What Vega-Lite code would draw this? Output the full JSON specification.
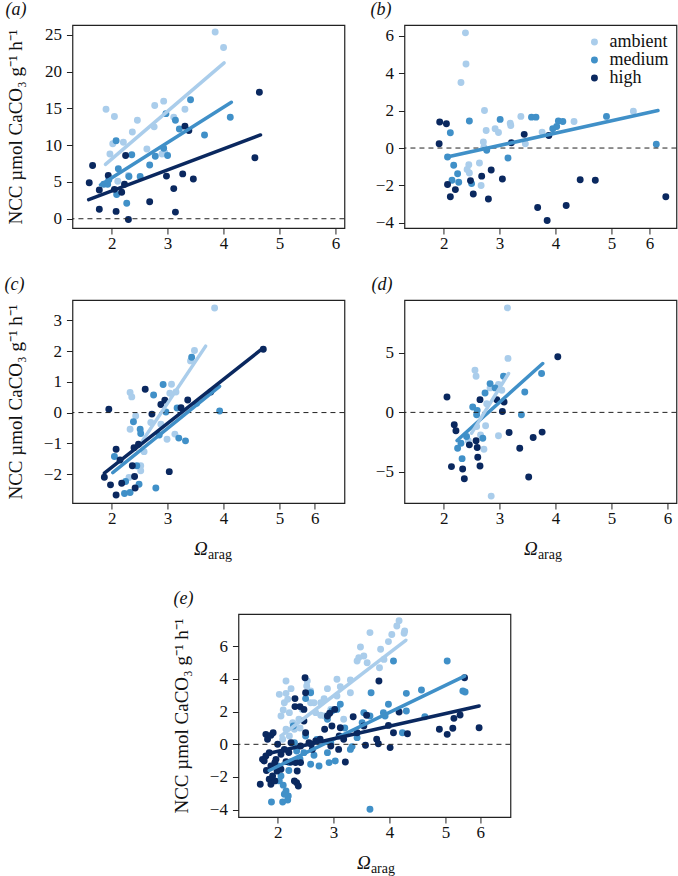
{
"$schema": "https://vega.github.io/schema/vega-lite/v6.json",
"background": "white",
"padding": {"left": 3, "top": 0, "right": 2, "bottom": 2},
"config": {
 "font": "Liberation Serif",
 "style": {"guide-label": {"font": "Liberation Serif"}, "guide-title": {"font": "Liberation Serif"}, "group-title": {"font": "Liberation Serif"}},
 "view": {"stroke": "#222", "strokeWidth": 1.2},
 "axis": {"labelFont": "Liberation Serif", "labelFontSize": 17, "labelColor": "#111", "titleFont": "Liberation Serif", "titleFontSize": 19, "titleFontWeight": "normal", "titleColor": "#111", "tickColor": "#222", "tickSize": 6, "tickWidth": 1, "domain": false, "grid": false, "labelFlush": false, "labelOverlap": false, "format": "d"},
 "axisX": {"labelPadding": 1, "labelFont": "Liberation Serif"},
 "axisY": {"labelPadding": 5, "labelFont": "Liberation Serif"},
 "title": {"font": "Liberation Serif", "fontSize": 18, "fontStyle": "italic", "fontWeight": "normal", "anchor": "start", "frame": "group", "offset": 6, "baseline": "alphabetic", "color": "#111"},
 "legend": {"labelFont": "Liberation Serif", "labelColor": "#111"}
},
"datasets": {
 "pts": [
  {"panel":"a","group":"ambient","x":1.9,"y":14.9},{"panel":"a","group":"ambient","x":2.05,"y":13.9},{"panel":"a","group":"ambient","x":1.97,"y":8.8},{"panel":"a","group":"ambient","x":2.02,"y":10.2},{"panel":"a","group":"ambient","x":2.21,"y":10.4},{"panel":"a","group":"ambient","x":2.37,"y":11.8},{"panel":"a","group":"ambient","x":2.46,"y":13.4},{"panel":"a","group":"ambient","x":2.11,"y":5.1},{"panel":"a","group":"ambient","x":2.77,"y":15.4},{"panel":"a","group":"ambient","x":2.93,"y":16.0},{"panel":"a","group":"ambient","x":2.76,"y":12.5},{"panel":"a","group":"ambient","x":2.63,"y":9.5},{"panel":"a","group":"ambient","x":2.9,"y":8.8},{"panel":"a","group":"ambient","x":3.11,"y":13.8},{"panel":"a","group":"ambient","x":3.31,"y":14.9},{"panel":"a","group":"ambient","x":3.85,"y":25.4},{"panel":"a","group":"ambient","x":4.0,"y":23.3},{"panel":"a","group":"ambient","x":2.3,"y":5.9},{"panel":"a","group":"ambient","x":2.95,"y":9.0},
  {"panel":"a","group":"medium","x":1.86,"y":4.7},{"panel":"a","group":"medium","x":1.93,"y":4.7},{"panel":"a","group":"medium","x":2.08,"y":10.6},{"panel":"a","group":"medium","x":2.12,"y":6.8},{"panel":"a","group":"medium","x":2.09,"y":3.3},{"panel":"a","group":"medium","x":2.27,"y":2.1},{"panel":"a","group":"medium","x":2.36,"y":8.7},{"panel":"a","group":"medium","x":2.31,"y":5.75},{"panel":"a","group":"medium","x":2.51,"y":5.75},{"panel":"a","group":"medium","x":2.68,"y":7.3},{"panel":"a","group":"medium","x":2.78,"y":8.5},{"panel":"a","group":"medium","x":2.93,"y":9.6},{"panel":"a","group":"medium","x":2.97,"y":14.3},{"panel":"a","group":"medium","x":3.0,"y":8.6},{"panel":"a","group":"medium","x":3.14,"y":13.4},{"panel":"a","group":"medium","x":3.21,"y":12.2},{"panel":"a","group":"medium","x":3.41,"y":16.2},{"panel":"a","group":"medium","x":3.66,"y":11.4},{"panel":"a","group":"medium","x":4.12,"y":13.8},{"panel":"a","group":"medium","x":1.95,"y":5.3},
  {"panel":"a","group":"high","x":1.6,"y":4.9},{"panel":"a","group":"high","x":1.66,"y":7.25},{"panel":"a","group":"high","x":1.78,"y":3.9},{"panel":"a","group":"high","x":1.78,"y":1.3},{"panel":"a","group":"high","x":1.94,"y":5.9},{"panel":"a","group":"high","x":2.05,"y":4.0},{"panel":"a","group":"high","x":2.08,"y":1.0},{"panel":"a","group":"high","x":2.18,"y":3.6},{"panel":"a","group":"high","x":2.23,"y":4.7},{"panel":"a","group":"high","x":2.25,"y":8.6},{"panel":"a","group":"high","x":2.3,"y":-0.1},{"panel":"a","group":"high","x":2.68,"y":2.3},{"panel":"a","group":"high","x":2.98,"y":5.8},{"panel":"a","group":"high","x":3.11,"y":4.1},{"panel":"a","group":"high","x":3.14,"y":0.9},{"panel":"a","group":"high","x":3.27,"y":6.1},{"panel":"a","group":"high","x":3.31,"y":12.6},{"panel":"a","group":"high","x":3.38,"y":12.0},{"panel":"a","group":"high","x":3.46,"y":5.4},{"panel":"a","group":"high","x":4.56,"y":8.3},{"panel":"a","group":"high","x":4.64,"y":17.2},
  {"panel":"b","group":"ambient","x":2.39,"y":6.15},{"panel":"b","group":"ambient","x":2.4,"y":4.49},{"panel":"b","group":"ambient","x":2.31,"y":3.5},{"panel":"b","group":"ambient","x":2.73,"y":2.0},{"panel":"b","group":"ambient","x":2.76,"y":0.94},{"panel":"b","group":"ambient","x":2.92,"y":1.03},{"panel":"b","group":"ambient","x":2.98,"y":0.83},{"panel":"b","group":"ambient","x":3.19,"y":1.33},{"panel":"b","group":"ambient","x":3.2,"y":1.2},{"panel":"b","group":"ambient","x":3.38,"y":1.69},{"panel":"b","group":"ambient","x":3.76,"y":0.85},{"panel":"b","group":"ambient","x":4.33,"y":1.42},{"panel":"b","group":"ambient","x":5.39,"y":1.97},{"panel":"b","group":"ambient","x":2.71,"y":0.32},{"panel":"b","group":"ambient","x":2.72,"y":0.05},{"panel":"b","group":"ambient","x":2.45,"y":-0.89},{"panel":"b","group":"ambient","x":2.42,"y":-1.15},{"panel":"b","group":"ambient","x":2.46,"y":-1.33},{"panel":"b","group":"ambient","x":2.64,"y":-0.8},{"panel":"b","group":"ambient","x":2.67,"y":-2.0},{"panel":"b","group":"ambient","x":3.46,"y":0.23},
  {"panel":"b","group":"medium","x":2.12,"y":0.82},{"panel":"b","group":"medium","x":2.07,"y":-0.48},{"panel":"b","group":"medium","x":2.18,"y":-0.92},{"panel":"b","group":"medium","x":2.25,"y":-1.37},{"panel":"b","group":"medium","x":2.27,"y":-1.83},{"panel":"b","group":"medium","x":2.15,"y":-1.72},{"panel":"b","group":"medium","x":2.46,"y":1.44},{"panel":"b","group":"medium","x":2.5,"y":-1.9},{"panel":"b","group":"medium","x":2.77,"y":-0.12},{"panel":"b","group":"medium","x":3.01,"y":1.53},{"panel":"b","group":"medium","x":3.15,"y":-0.53},{"panel":"b","group":"medium","x":3.57,"y":1.65},{"panel":"b","group":"medium","x":3.65,"y":1.65},{"panel":"b","group":"medium","x":3.95,"y":1.03},{"panel":"b","group":"medium","x":4.05,"y":1.44},{"panel":"b","group":"medium","x":4.13,"y":1.42},{"panel":"b","group":"medium","x":4.02,"y":1.15},{"panel":"b","group":"medium","x":4.91,"y":1.69},{"panel":"b","group":"medium","x":5.8,"y":0.2},
  {"panel":"b","group":"high","x":1.93,"y":1.39},{"panel":"b","group":"high","x":2.05,"y":1.3},{"panel":"b","group":"high","x":1.92,"y":0.23},{"panel":"b","group":"high","x":2.07,"y":-1.95},{"panel":"b","group":"high","x":2.12,"y":-2.6},{"panel":"b","group":"high","x":2.21,"y":-2.22},{"panel":"b","group":"high","x":2.48,"y":-1.74},{"panel":"b","group":"high","x":2.53,"y":-2.45},{"panel":"b","group":"high","x":2.68,"y":-1.5},{"panel":"b","group":"high","x":2.8,"y":-2.72},{"panel":"b","group":"high","x":2.85,"y":-1.17},{"panel":"b","group":"high","x":3.05,"y":-1.65},{"panel":"b","group":"high","x":3.21,"y":0.28},{"panel":"b","group":"high","x":3.44,"y":0.73},{"panel":"b","group":"high","x":3.68,"y":-3.18},{"panel":"b","group":"high","x":3.85,"y":-3.87},{"panel":"b","group":"high","x":3.88,"y":0.67},{"panel":"b","group":"high","x":4.19,"y":-3.07},{"panel":"b","group":"high","x":4.44,"y":-1.69},{"panel":"b","group":"high","x":4.71,"y":-1.72},{"panel":"b","group":"high","x":5.97,"y":-2.6},
  {"panel":"c","group":"ambient","x":3.84,"y":3.4},{"panel":"c","group":"ambient","x":3.48,"y":2.02},{"panel":"c","group":"ambient","x":3.41,"y":1.68},{"panel":"c","group":"ambient","x":3.07,"y":0.92},{"panel":"c","group":"ambient","x":3.04,"y":0.63},{"panel":"c","group":"ambient","x":3.15,"y":0.67},{"panel":"c","group":"ambient","x":2.33,"y":0.65},{"panel":"c","group":"ambient","x":2.36,"y":0.51},{"panel":"c","group":"ambient","x":2.43,"y":-0.11},{"panel":"c","group":"ambient","x":2.33,"y":-0.54},{"panel":"c","group":"ambient","x":2.7,"y":-0.32},{"panel":"c","group":"ambient","x":2.99,"y":-0.87},{"panel":"c","group":"ambient","x":2.58,"y":-1.27},{"panel":"c","group":"ambient","x":2.52,"y":-1.73},{"panel":"c","group":"ambient","x":2.52,"y":-1.89},{"panel":"c","group":"ambient","x":2.31,"y":-2.11},{"panel":"c","group":"ambient","x":2.88,"y":-0.38},{"panel":"c","group":"ambient","x":3.13,"y":-0.7},
  {"panel":"c","group":"medium","x":2.05,"y":-1.43},{"panel":"c","group":"medium","x":2.39,"y":-0.3},{"panel":"c","group":"medium","x":2.51,"y":-0.54},{"panel":"c","group":"medium","x":2.52,"y":-0.68},{"panel":"c","group":"medium","x":2.75,"y":0.57},{"panel":"c","group":"medium","x":2.92,"y":0.91},{"panel":"c","group":"medium","x":2.97,"y":0.02},{"panel":"c","group":"medium","x":2.85,"y":-0.73},{"panel":"c","group":"medium","x":3.2,"y":-0.83},{"panel":"c","group":"medium","x":3.32,"y":-0.92},{"panel":"c","group":"medium","x":3.43,"y":1.8},{"panel":"c","group":"medium","x":3.52,"y":0.3},{"panel":"c","group":"medium","x":3.93,"y":0.05},{"panel":"c","group":"medium","x":2.25,"y":-2.24},{"panel":"c","group":"medium","x":2.23,"y":-2.63},{"panel":"c","group":"medium","x":2.33,"y":-2.6},{"panel":"c","group":"medium","x":2.49,"y":-2.33},{"panel":"c","group":"medium","x":2.79,"y":-2.45},{"panel":"c","group":"medium","x":2.45,"y":-1.73},{"panel":"c","group":"medium","x":3.17,"y":0.15},
  {"panel":"c","group":"high","x":1.95,"y":0.11},{"panel":"c","group":"high","x":1.87,"y":-2.1},{"panel":"c","group":"high","x":1.98,"y":-2.35},{"panel":"c","group":"high","x":2.08,"y":-1.19},{"panel":"c","group":"high","x":2.08,"y":-2.68},{"panel":"c","group":"high","x":2.15,"y":-1.54},{"panel":"c","group":"high","x":2.18,"y":-2.3},{"panel":"c","group":"high","x":2.37,"y":-1.73},{"panel":"c","group":"high","x":2.4,"y":-1.14},{"panel":"c","group":"high","x":2.41,"y":-2.08},{"panel":"c","group":"high","x":2.42,"y":-2.45},{"panel":"c","group":"high","x":2.48,"y":-1.03},{"panel":"c","group":"high","x":2.6,"y":0.76},{"panel":"c","group":"high","x":2.72,"y":-0.05},{"panel":"c","group":"high","x":2.88,"y":0.26},{"panel":"c","group":"high","x":2.95,"y":0.4},{"panel":"c","group":"high","x":3.03,"y":-1.92},{"panel":"c","group":"high","x":3.24,"y":0.16},{"panel":"c","group":"high","x":3.36,"y":0.41},{"panel":"c","group":"high","x":3.77,"y":0.67},{"panel":"c","group":"high","x":4.71,"y":2.06},
  {"panel":"d","group":"ambient","x":3.14,"y":8.79},{"panel":"d","group":"ambient","x":3.15,"y":4.54},{"panel":"d","group":"ambient","x":2.56,"y":3.55},{"panel":"d","group":"ambient","x":2.58,"y":3.04},{"panel":"d","group":"ambient","x":3.04,"y":1.86},{"panel":"d","group":"ambient","x":2.98,"y":2.34},{"panel":"d","group":"ambient","x":2.77,"y":0.73},{"panel":"d","group":"ambient","x":2.83,"y":2.06},{"panel":"d","group":"ambient","x":2.75,"y":-1.13},{"panel":"d","group":"ambient","x":2.66,"y":-1.89},{"panel":"d","group":"ambient","x":2.98,"y":-1.97},{"panel":"d","group":"ambient","x":2.72,"y":-3.1},{"panel":"d","group":"ambient","x":2.44,"y":-2.39},{"panel":"d","group":"ambient","x":2.85,"y":-7.04},{"panel":"d","group":"ambient","x":2.59,"y":-1.18},
  {"panel":"d","group":"medium","x":2.52,"y":0.45},{"panel":"d","group":"medium","x":2.6,"y":0.17},{"panel":"d","group":"medium","x":2.59,"y":-0.2},{"panel":"d","group":"medium","x":2.74,"y":1.63},{"panel":"d","group":"medium","x":2.83,"y":2.42},{"panel":"d","group":"medium","x":2.92,"y":2.06},{"panel":"d","group":"medium","x":3.07,"y":3.04},{"panel":"d","group":"medium","x":2.7,"y":-2.17},{"panel":"d","group":"medium","x":2.31,"y":-2.59},{"panel":"d","group":"medium","x":2.25,"y":-3.01},{"panel":"d","group":"medium","x":2.33,"y":-3.89},{"panel":"d","group":"medium","x":2.41,"y":-2.03},{"panel":"d","group":"medium","x":3.45,"y":1.72},{"panel":"d","group":"medium","x":3.39,"y":-0.2},{"panel":"d","group":"medium","x":3.75,"y":3.27},
  {"panel":"d","group":"high","x":2.06,"y":1.3},{"panel":"d","group":"high","x":2.19,"y":-1.04},{"panel":"d","group":"high","x":2.22,"y":-1.55},{"panel":"d","group":"high","x":2.14,"y":-4.56},{"panel":"d","group":"high","x":2.34,"y":-4.76},{"panel":"d","group":"high","x":2.37,"y":-5.58},{"panel":"d","group":"high","x":2.46,"y":-2.73},{"panel":"d","group":"high","x":2.58,"y":-2.39},{"panel":"d","group":"high","x":2.6,"y":-2.96},{"panel":"d","group":"high","x":2.61,"y":-3.77},{"panel":"d","group":"high","x":2.65,"y":-4.51},{"panel":"d","group":"high","x":2.65,"y":1.07},{"panel":"d","group":"high","x":2.95,"y":1.07},{"panel":"d","group":"high","x":3.08,"y":0.87},{"panel":"d","group":"high","x":3.05,"y":0.08},{"panel":"d","group":"high","x":3.17,"y":-1.69},{"panel":"d","group":"high","x":3.36,"y":-3.01},{"panel":"d","group":"high","x":3.52,"y":-5.44},{"panel":"d","group":"high","x":3.6,"y":-2.11},{"panel":"d","group":"high","x":3.76,"y":-1.66},{"panel":"d","group":"high","x":4.04,"y":4.68},
  {"panel":"e","group":"ambient","x":4.17,"y":7.57},{"panel":"e","group":"ambient","x":4.27,"y":6.94},{"panel":"e","group":"ambient","x":4.26,"y":6.8},{"panel":"e","group":"ambient","x":4.13,"y":7.24},{"panel":"e","group":"ambient","x":4.04,"y":6.73},{"panel":"e","group":"ambient","x":3.98,"y":6.29},{"panel":"e","group":"ambient","x":3.84,"y":5.82},{"panel":"e","group":"ambient","x":3.65,"y":6.84},{"panel":"e","group":"ambient","x":3.48,"y":5.96},{"panel":"e","group":"ambient","x":3.54,"y":5.41},{"panel":"e","group":"ambient","x":3.42,"y":5.1},{"panel":"e","group":"ambient","x":3.45,"y":5.31},{"panel":"e","group":"ambient","x":3.82,"y":4.69},{"panel":"e","group":"ambient","x":3.3,"y":3.94},{"panel":"e","group":"ambient","x":3.06,"y":3.98},{"panel":"e","group":"ambient","x":3.12,"y":3.53},{"panel":"e","group":"ambient","x":2.89,"y":3.41},{"panel":"e","group":"ambient","x":3.3,"y":3.16},{"panel":"e","group":"ambient","x":2.77,"y":2.55},{"panel":"e","group":"ambient","x":2.83,"y":2.8},{"panel":"e","group":"ambient","x":2.68,"y":1.94},{"panel":"e","group":"ambient","x":2.77,"y":1.78},{"panel":"e","group":"ambient","x":2.84,"y":1.73},{"panel":"e","group":"ambient","x":2.53,"y":3.88},{"panel":"e","group":"ambient","x":2.52,"y":3.57},{"panel":"e","group":"ambient","x":2.15,"y":3.88},{"panel":"e","group":"ambient","x":2.03,"y":3.06},{"panel":"e","group":"ambient","x":2.15,"y":3.12},{"panel":"e","group":"ambient","x":2.12,"y":2.55},{"panel":"e","group":"ambient","x":2.18,"y":2.76},{"panel":"e","group":"ambient","x":2.06,"y":1.73},{"panel":"e","group":"ambient","x":2.21,"y":1.94},{"panel":"e","group":"ambient","x":2.27,"y":1.33},{"panel":"e","group":"ambient","x":2.15,"y":0.92},{"panel":"e","group":"ambient","x":2.3,"y":0.92},{"panel":"e","group":"ambient","x":2.38,"y":1.53},{"panel":"e","group":"ambient","x":2.44,"y":2.14},{"panel":"e","group":"ambient","x":2.59,"y":2.55},{"panel":"e","group":"ambient","x":2.65,"y":2.55},{"panel":"e","group":"ambient","x":2.09,"y":0.31},{"panel":"e","group":"ambient","x":2.21,"y":0.51},{"panel":"e","group":"ambient","x":2.59,"y":3.27},{"panel":"e","group":"ambient","x":2.95,"y":2.14},{"panel":"e","group":"ambient","x":3.06,"y":2.96},{"panel":"e","group":"ambient","x":3.18,"y":1.53},{"panel":"e","group":"ambient","x":2.24,"y":3.41},{"panel":"e","group":"ambient","x":3.6,"y":5.0},{"panel":"e","group":"ambient","x":3.9,"y":5.2},{"panel":"e","group":"ambient","x":2.1,"y":2.1},{"panel":"e","group":"ambient","x":2.4,"y":1.0},
  {"panel":"e","group":"medium","x":4.07,"y":5.1},{"panel":"e","group":"medium","x":5.03,"y":5.1},{"panel":"e","group":"medium","x":5.31,"y":3.27},{"panel":"e","group":"medium","x":5.35,"y":3.2},{"panel":"e","group":"medium","x":4.57,"y":3.33},{"panel":"e","group":"medium","x":4.3,"y":3.12},{"panel":"e","group":"medium","x":4.3,"y":2.04},{"panel":"e","group":"medium","x":3.67,"y":3.16},{"panel":"e","group":"medium","x":3.98,"y":2.45},{"panel":"e","group":"medium","x":3.89,"y":1.94},{"panel":"e","group":"medium","x":3.92,"y":1.73},{"panel":"e","group":"medium","x":4.23,"y":0.71},{"panel":"e","group":"medium","x":4.63,"y":1.69},{"panel":"e","group":"medium","x":3.65,"y":1.73},{"panel":"e","group":"medium","x":3.51,"y":1.33},{"panel":"e","group":"medium","x":3.42,"y":0.41},{"panel":"e","group":"medium","x":3.33,"y":-0.14},{"panel":"e","group":"medium","x":3.12,"y":2.45},{"panel":"e","group":"medium","x":3.06,"y":2.14},{"panel":"e","group":"medium","x":2.97,"y":2.04},{"panel":"e","group":"medium","x":2.89,"y":1.53},{"panel":"e","group":"medium","x":2.95,"y":0.1},{"panel":"e","group":"medium","x":2.92,"y":-1.12},{"panel":"e","group":"medium","x":3.03,"y":-1.02},{"panel":"e","group":"medium","x":2.89,"y":-0.51},{"panel":"e","group":"medium","x":2.74,"y":-1.33},{"panel":"e","group":"medium","x":2.59,"y":-1.22},{"panel":"e","group":"medium","x":2.65,"y":-0.67},{"panel":"e","group":"medium","x":2.47,"y":-0.51},{"panel":"e","group":"medium","x":2.5,"y":0.51},{"panel":"e","group":"medium","x":2.59,"y":3.16},{"panel":"e","group":"medium","x":2.5,"y":2.8},{"panel":"e","group":"medium","x":2.28,"y":1.12},{"panel":"e","group":"medium","x":2.3,"y":0.1},{"panel":"e","group":"medium","x":2.21,"y":-1.12},{"panel":"e","group":"medium","x":2.06,"y":-1.94},{"panel":"e","group":"medium","x":2.15,"y":-2.86},{"panel":"e","group":"medium","x":2.19,"y":-3.16},{"panel":"e","group":"medium","x":2.09,"y":-3.53},{"panel":"e","group":"medium","x":1.89,"y":-3.53},{"panel":"e","group":"medium","x":2.18,"y":-3.41},{"panel":"e","group":"medium","x":2.12,"y":-3.06},{"panel":"e","group":"medium","x":2.03,"y":-2.24},{"panel":"e","group":"medium","x":2.0,"y":-1.33},{"panel":"e","group":"medium","x":3.65,"y":-3.98},{"panel":"e","group":"medium","x":3.3,"y":-0.31},{"panel":"e","group":"medium","x":3.54,"y":1.94},{"panel":"e","group":"medium","x":2.34,"y":-0.41},{"panel":"e","group":"medium","x":2.2,"y":-1.6},{"panel":"e","group":"medium","x":2.4,"y":-0.9},{"panel":"e","group":"medium","x":2.7,"y":0.3},{"panel":"e","group":"medium","x":3.2,"y":1.0},{"panel":"e","group":"medium","x":2.1,"y":-2.5},
  {"panel":"e","group":"high","x":1.69,"y":-2.45},{"panel":"e","group":"high","x":1.76,"y":-1.02},{"panel":"e","group":"high","x":1.79,"y":-0.71},{"panel":"e","group":"high","x":1.73,"y":-0.92},{"panel":"e","group":"high","x":1.82,"y":0.31},{"panel":"e","group":"high","x":1.79,"y":0.61},{"panel":"e","group":"high","x":1.88,"y":0.55},{"panel":"e","group":"high","x":1.92,"y":0.71},{"panel":"e","group":"high","x":1.85,"y":-0.51},{"panel":"e","group":"high","x":1.88,"y":-1.33},{"panel":"e","group":"high","x":1.85,"y":-2.14},{"panel":"e","group":"high","x":1.88,"y":-2.45},{"panel":"e","group":"high","x":1.95,"y":-2.24},{"panel":"e","group":"high","x":2.0,"y":0.0},{"panel":"e","group":"high","x":1.97,"y":-0.92},{"panel":"e","group":"high","x":1.99,"y":-1.63},{"panel":"e","group":"high","x":1.91,"y":-1.94},{"panel":"e","group":"high","x":1.95,"y":-1.12},{"panel":"e","group":"high","x":2.06,"y":-1.53},{"panel":"e","group":"high","x":2.15,"y":-1.06},{"panel":"e","group":"high","x":2.24,"y":-1.08},{"panel":"e","group":"high","x":2.32,"y":-1.12},{"panel":"e","group":"high","x":2.41,"y":-1.12},{"panel":"e","group":"high","x":2.35,"y":-1.63},{"panel":"e","group":"high","x":2.34,"y":-2.35},{"panel":"e","group":"high","x":2.3,"y":-2.24},{"panel":"e","group":"high","x":2.37,"y":-2.55},{"panel":"e","group":"high","x":2.24,"y":0.1},{"panel":"e","group":"high","x":2.31,"y":2.8},{"panel":"e","group":"high","x":2.31,"y":2.31},{"panel":"e","group":"high","x":2.4,"y":2.31},{"panel":"e","group":"high","x":2.47,"y":2.14},{"panel":"e","group":"high","x":2.49,"y":4.08},{"panel":"e","group":"high","x":2.5,"y":3.16},{"panel":"e","group":"high","x":2.47,"y":1.43},{"panel":"e","group":"high","x":2.5,"y":0.71},{"panel":"e","group":"high","x":2.41,"y":-0.1},{"panel":"e","group":"high","x":2.56,"y":0.1},{"panel":"e","group":"high","x":2.62,"y":-0.31},{"panel":"e","group":"high","x":2.68,"y":0.2},{"panel":"e","group":"high","x":2.76,"y":0.31},{"panel":"e","group":"high","x":2.84,"y":0.92},{"panel":"e","group":"high","x":2.89,"y":1.73},{"panel":"e","group":"high","x":2.93,"y":1.9},{"panel":"e","group":"high","x":3.02,"y":2.14},{"panel":"e","group":"high","x":2.97,"y":1.12},{"panel":"e","group":"high","x":2.95,"y":-0.1},{"panel":"e","group":"high","x":3.12,"y":1.02},{"panel":"e","group":"high","x":3.1,"y":0.51},{"panel":"e","group":"high","x":3.09,"y":-0.31},{"panel":"e","group":"high","x":3.21,"y":-1.08},{"panel":"e","group":"high","x":3.18,"y":0.31},{"panel":"e","group":"high","x":3.35,"y":1.69},{"panel":"e","group":"high","x":3.42,"y":0.71},{"panel":"e","group":"high","x":3.54,"y":1.12},{"panel":"e","group":"high","x":3.59,"y":1.78},{"panel":"e","group":"high","x":3.57,"y":-0.06},{"panel":"e","group":"high","x":3.77,"y":0.31},{"panel":"e","group":"high","x":3.8,"y":0.04},{"panel":"e","group":"high","x":3.81,"y":3.88},{"panel":"e","group":"high","x":4.01,"y":-0.2},{"panel":"e","group":"high","x":3.98,"y":1.16},{"panel":"e","group":"high","x":4.07,"y":0.71},{"panel":"e","group":"high","x":4.17,"y":1.98},{"panel":"e","group":"high","x":4.32,"y":0.65},{"panel":"e","group":"high","x":4.89,"y":0.92},{"panel":"e","group":"high","x":5.03,"y":0.61},{"panel":"e","group":"high","x":5.13,"y":0.98},{"panel":"e","group":"high","x":5.15,"y":1.59},{"panel":"e","group":"high","x":5.26,"y":1.8},{"panel":"e","group":"high","x":5.34,"y":4.08},{"panel":"e","group":"high","x":5.6,"y":1.02},{"panel":"e","group":"high","x":2.12,"y":-0.31},{"panel":"e","group":"high","x":2.06,"y":-0.61},{"panel":"e","group":"high","x":1.8,"y":-1.6},{"panel":"e","group":"high","x":2.6,"y":0.0},{"panel":"e","group":"high","x":2.2,"y":-0.5}
 ],
 "fits": [
  {"panel":"a","group":"ambient","x":1.89,"y":7.4},{"panel":"a","group":"ambient","x":4.01,"y":21.2},
  {"panel":"a","group":"medium","x":1.8,"y":4.6},{"panel":"a","group":"medium","x":4.14,"y":15.85},
  {"panel":"a","group":"high","x":1.59,"y":2.6},{"panel":"a","group":"high","x":4.66,"y":11.4},
  {"panel":"b","group":"medium","x":2.06,"y":-0.48},{"panel":"b","group":"medium","x":5.83,"y":2.0},
  {"panel":"c","group":"ambient","x":2.55,"y":-0.92},{"panel":"c","group":"ambient","x":3.68,"y":2.16},
  {"panel":"c","group":"medium","x":2.02,"y":-1.95},{"panel":"c","group":"medium","x":3.93,"y":0.85},
  {"panel":"c","group":"high","x":1.87,"y":-1.97},{"panel":"c","group":"high","x":4.71,"y":2.1},
  {"panel":"d","group":"medium","x":2.24,"y":-2.37},{"panel":"d","group":"medium","x":3.77,"y":4.11},
  {"panel":"d","group":"ambient","x":2.5,"y":-1.75},{"panel":"d","group":"ambient","x":3.16,"y":3.27},
  {"panel":"e","group":"ambient","x":2.06,"y":0.51},{"panel":"e","group":"ambient","x":4.29,"y":6.37},
  {"panel":"e","group":"medium","x":1.85,"y":-1.6},{"panel":"e","group":"medium","x":5.34,"y":4.18},
  {"panel":"e","group":"high","x":1.85,"y":-0.55},{"panel":"e","group":"high","x":5.6,"y":2.35}
 ]
},
"spacing": 27,
"center": true,
"resolve": {"scale": {"color": "independent"}, "legend": {"color": "independent"}},
"vconcat": [
 {
 "spacing": 23,
 "resolve": {"scale": {"color": "independent"}, "legend": {"color": "independent"}},
 "vconcat": [
 {
  "hconcat": [
   {
    "width": 272, "height": 203,
    "title": {"text": "(a)", "dx": -67},
    "layer": [
     {"data": {"name": "pts"}, "transform": [{"filter": "datum.panel === 'a'"}],
      "mark": {"type": "circle", "size": 48, "opacity": 1},
      "encoding": {
       "x": {"field": "x", "type": "quantitative", "scale": {"domain": [1.3, 6.16], "nice": false, "zero": false}, "axis": {"values": [2,3,4,5,6], "title": null, "labelFont": "Liberation Serif"}},
       "y": {"field": "y", "type": "quantitative", "scale": {"domain": [-1.26, 26.36], "nice": false, "zero": false}, "axis": {"values": [0,5,10,15,20,25], "labelFont": "Liberation Serif", "title": "NCC µmol CaCO₃ g⁻¹ h⁻¹", "titleX": -51, "titleY": 101.5, "titleAlign": "center", "titleBaseline": "alphabetic"}},
       "color": {"field": "group", "type": "nominal", "scale": {"domain": ["ambient","medium","high"], "range": ["#aacdeb","#4090c8","#0a285f"]}, "legend": null}
      }},
     {"data": {"values": [{"y": 0}]}, "mark": {"type": "rule", "strokeDash": [5,4], "color": "#222", "strokeWidth": 1}, "encoding": {"y": {"field": "y", "type": "quantitative"}}},
     {"data": {"name": "fits"}, "transform": [{"filter": "datum.panel === 'a'"}],
      "mark": {"type": "line", "strokeWidth": 3.5, "strokeCap": "round"},
      "encoding": {"x": {"field": "x", "type": "quantitative"}, "y": {"field": "y", "type": "quantitative"}, "color": {"field": "group", "type": "nominal", "scale": {"domain": ["ambient","medium","high"], "range": ["#aacdeb","#4090c8","#0a285f"]}, "legend": null}}}
    ]
   },
   {
    "width": 272, "height": 203,
    "title": {"text": "(b)", "dx": -34},
    "layer": [
     {"data": {"name": "pts"}, "transform": [{"filter": "datum.panel === 'b'"}],
      "mark": {"type": "circle", "size": 48, "opacity": 1},
      "encoding": {
       "x": {"field": "x", "type": "quantitative", "scale": {"domain": [1.3, 6.16], "nice": false, "zero": false}, "axis": {"values": [2,3,4,5,5.68], "labelFont": "Liberation Serif", "labelExpr": "datum.value > 5.5 ? '6' : format(datum.value, 'd')", "title": null}},
       "y": {"field": "y", "type": "quantitative", "scale": {"domain": [-4.27, 6.57], "nice": false, "zero": false}, "axis": {"values": [-4,-2,0,2,4,6], "labelFont": "Liberation Serif", "title": null}},
       "color": {"field": "group", "type": "nominal", "scale": {"domain": ["ambient","medium","high"], "range": ["#aacdeb","#4090c8","#0a285f"]}, "legend": {"orient": "top-right", "offset": 8, "title": null, "labelFontSize": 18, "symbolSize": 48, "rowPadding": -2, "labelOffset": 6, "padding": 0, "symbolType": "circle"}}
      }},
     {"data": {"values": [{"y": 0}]}, "mark": {"type": "rule", "strokeDash": [5,4], "color": "#222", "strokeWidth": 1}, "encoding": {"y": {"field": "y", "type": "quantitative"}}},
     {"data": {"name": "fits"}, "transform": [{"filter": "datum.panel === 'b'"}],
      "mark": {"type": "line", "strokeWidth": 3.5, "strokeCap": "round", "color": "#4090c8"},
      "encoding": {"x": {"field": "x", "type": "quantitative"}, "y": {"field": "y", "type": "quantitative"}}}
    ]
   }
  ],
  "spacing": 60,
  "bounds": "flush",
  "resolve": {"scale": {"color": "independent"}, "legend": {"color": "independent"}}
 },
 {
  "hconcat": [
   {
    "width": 272, "height": 203,
    "title": {"text": "(c)", "dx": -68},
    "layer": [
     {"data": {"name": "pts"}, "transform": [{"filter": "datum.panel === 'c'"}],
      "mark": {"type": "circle", "size": 48, "opacity": 1},
      "encoding": {
       "x": {"field": "x", "type": "quantitative", "scale": {"domain": [1.3, 6.16], "nice": false, "zero": false}, "axis": {"values": [2,3,4,5,5.63], "labelFont": "Liberation Serif", "labelExpr": "datum.value > 5.5 ? '6' : format(datum.value, 'd')", "title": "Ω", "titleFontStyle": "italic", "titleX": 128, "titleY": 51, "titleBaseline": "alphabetic", "titleAlign": "center"}},
       "y": {"field": "y", "type": "quantitative", "scale": {"domain": [-2.94, 3.66], "nice": false, "zero": false}, "axis": {"values": [-2,-1,0,1,2,3], "labelFont": "Liberation Serif", "title": "NCC µmol CaCO₃ g⁻¹ h⁻¹", "titleX": -51, "titleY": 101.5, "titleAlign": "center", "titleBaseline": "alphabetic"}},
       "color": {"field": "group", "type": "nominal", "scale": {"domain": ["ambient","medium","high"], "range": ["#aacdeb","#4090c8","#0a285f"]}, "legend": null}
      }},
     {"data": {"values": [{"y": 0}]}, "mark": {"type": "rule", "strokeDash": [5,4], "color": "#222", "strokeWidth": 1}, "encoding": {"y": {"field": "y", "type": "quantitative"}}},
     {"data": {"name": "fits"}, "transform": [{"filter": "datum.panel === 'c'"}],
      "mark": {"type": "line", "strokeWidth": 3.5, "strokeCap": "round"},
      "encoding": {"x": {"field": "x", "type": "quantitative", "scale": {"domain": [1.3, 6.16], "nice": false, "zero": false}, "axis": {"orient": "bottom", "labels": false, "ticks": false, "domain": false, "grid": false, "title": "arag", "titleFontSize": 14, "titleX": 147, "titleY": 55, "titleBaseline": "alphabetic", "titleAlign": "center"}}, "y": {"field": "y", "type": "quantitative"}, "color": {"field": "group", "type": "nominal", "scale": {"domain": ["ambient","medium","high"], "range": ["#aacdeb","#4090c8","#0a285f"]}, "legend": null}}}
    ],
    "resolve": {"scale": {"x": "independent"}, "axis": {"x": "independent"}}
   },
   {
    "width": 272, "height": 203,
    "title": {"text": "(d)", "dx": -33},
    "layer": [
     {"data": {"name": "pts"}, "transform": [{"filter": "datum.panel === 'd'"}],
      "mark": {"type": "circle", "size": 48, "opacity": 1},
      "encoding": {
       "x": {"field": "x", "type": "quantitative", "scale": {"domain": [1.3, 6.16], "nice": false, "zero": false}, "axis": {"values": [2,3,4,5,6], "labelFont": "Liberation Serif", "title": "Ω", "titleFontStyle": "italic", "titleX": 126, "titleY": 51, "titleBaseline": "alphabetic", "titleAlign": "center"}},
       "y": {"field": "y", "type": "quantitative", "scale": {"domain": [-7.62, 9.45], "nice": false, "zero": false}, "axis": {"values": [-5,0,5], "labelFont": "Liberation Serif", "title": null}},
       "color": {"field": "group", "type": "nominal", "scale": {"domain": ["ambient","medium","high"], "range": ["#aacdeb","#4090c8","#0a285f"]}, "legend": null}
      }},
     {"data": {"values": [{"y": 0}]}, "mark": {"type": "rule", "strokeDash": [5,4], "color": "#222", "strokeWidth": 1}, "encoding": {"y": {"field": "y", "type": "quantitative"}}},
     {"data": {"name": "fits"}, "transform": [{"filter": "datum.panel === 'd'"}],
      "mark": {"type": "line", "strokeWidth": 3.5, "strokeCap": "round"},
      "encoding": {"x": {"field": "x", "type": "quantitative", "scale": {"domain": [1.3, 6.16], "nice": false, "zero": false}, "axis": {"orient": "bottom", "labels": false, "ticks": false, "domain": false, "grid": false, "title": "arag", "titleFontSize": 14, "titleX": 145, "titleY": 55, "titleBaseline": "alphabetic", "titleAlign": "center"}}, "y": {"field": "y", "type": "quantitative"}, "color": {"field": "group", "type": "nominal", "scale": {"domain": ["ambient","medium","high"], "range": ["#aacdeb","#4090c8","#0a285f"]}, "legend": null}}}
    ],
    "resolve": {"scale": {"x": "independent"}, "axis": {"x": "independent"}}
   }
  ],
  "spacing": 60,
  "bounds": "flush",
  "resolve": {"scale": {"color": "independent"}, "legend": {"color": "independent"}}
 }
 ]
 },
 {
  "width": 272, "height": 203,
  "title": {"text": "(e)", "dx": -65},
  "layer": [
   {"data": {"name": "pts"}, "transform": [{"filter": "datum.panel === 'e'"}],
    "mark": {"type": "circle", "size": 48, "opacity": 1},
    "encoding": {
     "x": {"field": "x", "type": "quantitative", "scale": {"domain": [1.3, 6.16], "nice": false, "zero": false}, "axis": {"values": [2,3,4,5,5.62], "labelFont": "Liberation Serif", "labelExpr": "datum.value > 5.5 ? '6' : format(datum.value, 'd')", "title": "Ω", "titleFontStyle": "italic", "titleX": 125, "titleY": 51, "titleBaseline": "alphabetic", "titleAlign": "center"}},
     "y": {"field": "y", "type": "quantitative", "scale": {"domain": [-4.45, 7.98], "nice": false, "zero": false}, "axis": {"values": [-4,-2,0,2,4,6], "labelFont": "Liberation Serif", "title": "NCC µmol CaCO₃ g⁻¹ h⁻¹", "titleX": -51, "titleY": 101.5, "titleAlign": "center", "titleBaseline": "alphabetic"}},
     "color": {"field": "group", "type": "nominal", "scale": {"domain": ["ambient","medium","high"], "range": ["#aacdeb","#4090c8","#0a285f"]}, "legend": null}
    }},
   {"data": {"values": [{"y": 0}]}, "mark": {"type": "rule", "strokeDash": [5,4], "color": "#222", "strokeWidth": 1}, "encoding": {"y": {"field": "y", "type": "quantitative"}}},
   {"data": {"name": "fits"}, "transform": [{"filter": "datum.panel === 'e'"}],
    "mark": {"type": "line", "strokeWidth": 3.5, "strokeCap": "round"},
    "encoding": {"x": {"field": "x", "type": "quantitative", "scale": {"domain": [1.3, 6.16], "nice": false, "zero": false}, "axis": {"orient": "bottom", "labels": false, "ticks": false, "domain": false, "grid": false, "title": "arag", "titleFontSize": 14, "titleX": 144, "titleY": 55, "titleBaseline": "alphabetic", "titleAlign": "center"}}, "y": {"field": "y", "type": "quantitative"}, "color": {"field": "group", "type": "nominal", "scale": {"domain": ["ambient","medium","high"], "range": ["#aacdeb","#4090c8","#0a285f"]}, "legend": null}}}
  ],
  "resolve": {"scale": {"x": "independent"}, "axis": {"x": "independent"}}
 }
]
}
